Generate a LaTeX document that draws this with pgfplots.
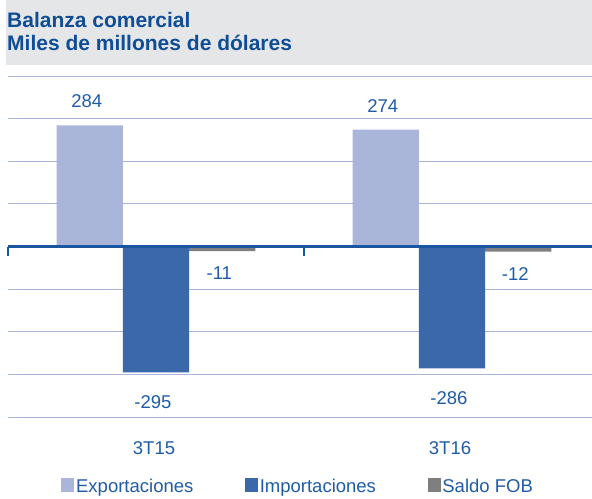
\documentclass[border=0pt]{standalone}
\usepackage{pgfplots}
\pgfplotsset{compat=1.18}
\usepackage{fontspec}
\setmainfont{Liberation Sans}

\definecolor{expo}{HTML}{A9B6DA}
\definecolor{impo}{HTML}{3A68AA}
\definecolor{saldo}{HTML}{7F7F7F}
\definecolor{txtblue}{HTML}{1F5CA6}
\definecolor{ttlblue}{HTML}{0F4D97}
\definecolor{gridc}{HTML}{A9B5D8}
\definecolor{axisblue}{HTML}{1A56A0}
\definecolor{ttlbg}{HTML}{E5E6E8}

\newcommand\lblfont{\fontsize{18.5bp}{21bp}\selectfont}

\begin{document}
\begin{tikzpicture}[x=1bp,y=1bp]
\useasboundingbox (0,0) rectangle (592,-499);
% title block
\fill[ttlbg] (6,0) rectangle (592,-65);
\node[anchor=base west, inner sep=0, text=ttlblue,
  font=\fontsize{21bp}{23bp}\selectfont\bfseries] at (7,-27.5) {Balanza comercial};
\node[anchor=base west, inner sep=0, text=ttlblue,
  font=\fontsize{21bp}{23bp}\selectfont\bfseries] at (7,-50.5) {Miles de millones de dólares};

\begin{axis}[
  at={(8bp,-417bp)}, anchor=south west,
  scale only axis, width=584bp, height=341bp,
  xmin=-0.5, xmax=1.473, ymin=-400, ymax=400,
  ybar, bar width=0.224,
  axis line style={draw=none},
  major tick length=0,
  ytick={-400,-300,...,400}, yticklabels={},
  ymajorgrids, grid style={gridc, line width=1bp},
  xtick={0,1}, xticklabels={3T15,3T16},
  xticklabel style={font=\lblfont, text=txtblue, anchor=center, yshift=-31bp, xshift=-2bp},
  clip=false,
  nodes near coords={\pgfmathprintnumber[assume math mode=true]{\pgfplotspointmeta}},
  nodes near coords style={font=\lblfont, text=txtblue, anchor=center, xshift=-3bp},
  legend columns=3,
  legend style={draw=none, fill=none, font=\lblfont, text=txtblue,
    at={(axis description cs:0.4966,-0.205)}, anchor=center,
    inner sep=0pt, nodes={inner sep=1.7bp},
    /tikz/every even column/.append style={column sep=50bp}},
  legend cell align=left,
  legend image code/.code={\fill[#1, draw=none] (0bp,-5bp) rectangle (13bp,9bp);},
]
\addplot+[fill=expo, draw=none, bar shift=-0.224,
  every node near coord/.append style={yshift=24bp}]
  coordinates {(0,284) (1,274)};
\addlegendentry{Exportaciones}
\addplot+[fill=impo, draw=none, bar shift=0,
  every node near coord/.append style={yshift=-30bp}]
  coordinates {(0,-295) (1,-286)};
\addlegendentry{Importaciones}
\addplot+[fill=saldo, draw=none, bar shift=0.224,
  every node near coord/.append style={yshift=-22bp}]
  coordinates {(0,-11) (1,-12)};
\addlegendentry{Saldo FOB}
% zero line with category separators
\draw[axisblue, line width=2.5bp] (axis cs:-0.5,0) -- (axis cs:1.473,0);
\draw[axisblue, line width=1.2bp] (axis cs:-0.5,0) -- ([yshift=-9bp]axis cs:-0.5,0);
\draw[axisblue, line width=1.2bp] (axis cs:0.5,0) -- ([yshift=-9bp]axis cs:0.5,0);
\end{axis}
\end{tikzpicture}
\end{document}
